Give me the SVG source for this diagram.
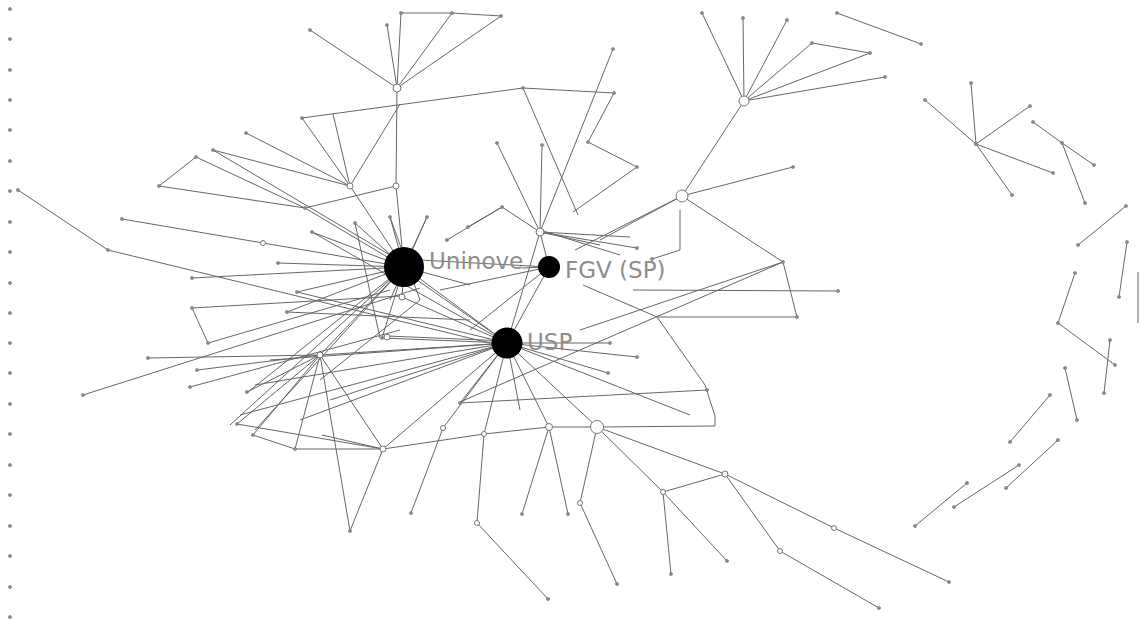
<svg xmlns="http://www.w3.org/2000/svg" width="1140" height="626" viewBox="0 0 1140 626">
<style>
.e{stroke:#666;stroke-width:1;fill:none}
.s{fill:#8c8c8c;stroke:#777;stroke-width:0.6}
.o{fill:#fff;stroke:#777;stroke-width:1}
.b{fill:#000}
.lbl{font-family:"DejaVu Sans",Verdana,sans-serif;font-size:23px;fill:#8d8d8d}
</style>
<rect width="1140" height="626" fill="#fff"/>
<g id="connectors" class="e">
<!-- top cluster -->
<path d="M401,13L452,13L501,16M397,88L401,13M397,88L452,13M397,88L501,16M397,88L387,25M397,88L310,30M397,88L396,186"/>
<path d="M302,118L523,88L614,93M302,118L350,186M333,114L350,186M350,186L246,133M350,186L213,150M350,186L400,104"/>
<path d="M196,157L159,186L305,208L196,157M305,208L396,186"/>
<path d="M350,186L404,267M396,186L404,267M305,208L404,267M213,150L395,258"/>
<!-- left -->
<path d="M18,190L108,250L490,343M122,219L263,243L404,267M278,263L404,267M192,278L404,267M192,308L400,296M192,308L208,343M83,395L420,288"/>
<path d="M148,358L320,355M197,370L320,355M190,387L400,330M247,392L320,355M320,355L404,267M320,355L507,343"/>
<path d="M355,223L404,267M390,217L404,267M427,217L404,267M312,232L404,267M287,312L404,267M297,292L404,267M382,338L404,267M402,297L404,267M355,223L380,338M390,217L420,300M427,217L390,300"/>
<path d="M312,232L507,343M297,292L507,343M287,312L470,320M208,343L390,290M248,392L404,267M255,430L404,267M230,425L404,267"/>
<path d="M382,338L507,343M387,336L507,341M402,297L507,343M404,267L507,343M410,275L500,338M420,260L549,267M404,267L470,285"/>
<!-- shared bottom-left -->
<path d="M320,355L295,449M320,355L253,435M320,355L237,424M320,355L383,449M320,355L350,531M253,435L295,449L383,449M237,424L383,449M322,435L383,449"/>
<path d="M383,449L507,343M383,449L484,434L549,427M350,531L383,449M411,513L443,428L507,343M477,523L484,434L507,343M477,523L548,599"/>
<path d="M255,385L507,343M240,415L507,343M300,420L507,343M330,400L507,343M270,360L507,343M320,380L420,300"/>
<!-- usp right side -->
<path d="M507,343L549,427M507,343L597,427M549,427L522,514M549,427L568,514M549,427L597,427L715,426L715,416L705,385L657,317L583,285M597,427L580,503L617,584"/>
<path d="M597,427L725,474L663,492L597,427M663,492L671,574M663,492L727,561M725,474L780,551L879,608M725,474L834,528L949,582"/>
<path d="M507,343L573,343L610,343M507,343L637,357M507,343L608,373M507,343L690,415M507,343L460,403M460,403L707,390M507,343L520,410M507,343L540,232M507,343L549,267"/>
<path d="M540,230L620,255M783,262L460,402M783,262L580,330M633,290L838,291M657,317L797,317M783,262L797,317M682,196L783,262M680,210L680,250L652,259"/>
<!-- fgv/top-center -->
<path d="M497,143L540,232M542,145L540,232M613,49L540,232M523,88L578,215M614,93L588,142L637,167L573,212M468,227L502,207L540,232M447,240L502,207"/>
<path d="M540,232L549,267M540,232L637,248M540,232L630,237M540,232L600,245M522,268L549,267M549,267L470,330M549,267L440,290"/>
<!-- right-top -->
<path d="M744,101L702,13M744,101L743,18M744,101L787,20M744,101L812,43L870,53M744,101L870,53M744,101L885,77M837,13L921,44"/>
<path d="M744,101L682,196M682,196L793,167M682,196L575,250M682,196L600,240"/>
<!-- far right -->
<path d="M976,144L971,83M976,144L925,100M976,144L1030,106M976,144L1053,173M976,144L1012,195M1033,122L1062,143L1094,165M1062,143L1085,203"/>
<path d="M1126,206L1078,245M1127,242L1119,297M1138,272L1138,323M1075,273L1058,323L1115,365M1110,340L1104,393M1065,368L1077,420M1050,395L1010,442M1058,440L1006,488M1019,465L954,507M967,483L915,526"/>
</g>
<g id="isolates" class="s">
<circle cx="10" cy="9" r="1.6"/><circle cx="10" cy="39" r="1.6"/><circle cx="10" cy="70" r="1.6"/><circle cx="10" cy="100" r="1.6"/><circle cx="10" cy="130" r="1.6"/><circle cx="10" cy="161" r="1.6"/><circle cx="10" cy="191" r="1.6"/><circle cx="10" cy="222" r="1.6"/><circle cx="10" cy="252" r="1.6"/><circle cx="10" cy="283" r="1.6"/><circle cx="10" cy="313" r="1.6"/><circle cx="10" cy="343" r="1.6"/><circle cx="10" cy="373" r="1.6"/><circle cx="10" cy="404" r="1.6"/><circle cx="10" cy="434" r="1.6"/><circle cx="10" cy="465" r="1.6"/><circle cx="10" cy="495" r="1.6"/><circle cx="10" cy="526" r="1.6"/><circle cx="10" cy="556" r="1.6"/><circle cx="10" cy="587" r="1.6"/><circle cx="10" cy="617" r="1.6"/>
</g>
<g id="small-nodes" class="s">
<circle cx="401" cy="13" r="1.6"/><circle cx="452" cy="13" r="1.6"/><circle cx="501" cy="16" r="1.6"/><circle cx="387" cy="25" r="1.6"/><circle cx="310" cy="30" r="1.6"/>
<circle cx="302" cy="118" r="1.6"/><circle cx="523" cy="88" r="1.6"/><circle cx="614" cy="93" r="1.6"/><circle cx="246" cy="133" r="1.6"/><circle cx="213" cy="150" r="1.6"/><circle cx="196" cy="157" r="1.6"/><circle cx="159" cy="186" r="1.6"/><circle cx="305" cy="208" r="1.6"/>
<circle cx="18" cy="190" r="1.6"/><circle cx="108" cy="250" r="1.6"/><circle cx="122" cy="219" r="1.6"/><circle cx="278" cy="263" r="1.6"/><circle cx="192" cy="278" r="1.6"/><circle cx="192" cy="308" r="1.6"/><circle cx="208" cy="343" r="1.6"/><circle cx="83" cy="395" r="1.6"/><circle cx="148" cy="358" r="1.6"/><circle cx="197" cy="370" r="1.6"/><circle cx="190" cy="387" r="1.6"/><circle cx="247" cy="392" r="1.6"/>
<circle cx="355" cy="223" r="1.6"/><circle cx="390" cy="217" r="1.6"/><circle cx="427" cy="217" r="1.6"/><circle cx="312" cy="232" r="1.6"/><circle cx="287" cy="312" r="1.6"/><circle cx="297" cy="292" r="1.6"/><circle cx="382" cy="338" r="1.6"/>
<circle cx="497" cy="143" r="1.6"/><circle cx="542" cy="145" r="1.6"/><circle cx="613" cy="49" r="1.6"/><circle cx="588" cy="142" r="1.6"/><circle cx="637" cy="167" r="1.6"/><circle cx="502" cy="207" r="1.6"/><circle cx="468" cy="227" r="1.6"/><circle cx="447" cy="240" r="1.6"/>
<circle cx="702" cy="13" r="1.6"/><circle cx="743" cy="18" r="1.6"/><circle cx="787" cy="20" r="1.6"/><circle cx="812" cy="43" r="1.6"/><circle cx="870" cy="53" r="1.6"/><circle cx="885" cy="77" r="1.6"/><circle cx="837" cy="13" r="1.6"/><circle cx="921" cy="44" r="1.6"/><circle cx="793" cy="167" r="1.6"/><circle cx="783" cy="262" r="1.6"/><circle cx="797" cy="317" r="1.6"/><circle cx="838" cy="291" r="1.6"/>
<circle cx="976" cy="144" r="1.8"/><circle cx="971" cy="83" r="1.6"/><circle cx="925" cy="100" r="1.6"/><circle cx="1030" cy="106" r="1.6"/><circle cx="1053" cy="173" r="1.6"/><circle cx="1012" cy="195" r="1.6"/><circle cx="1033" cy="122" r="1.6"/><circle cx="1062" cy="143" r="1.6"/><circle cx="1094" cy="165" r="1.6"/><circle cx="1085" cy="203" r="1.6"/>
<circle cx="1126" cy="206" r="1.6"/><circle cx="1078" cy="245" r="1.6"/><circle cx="1127" cy="242" r="1.6"/><circle cx="1119" cy="297" r="1.6"/><circle cx="1075" cy="273" r="1.6"/><circle cx="1058" cy="323" r="1.6"/><circle cx="1115" cy="365" r="1.6"/><circle cx="1110" cy="340" r="1.6"/><circle cx="1104" cy="393" r="1.6"/><circle cx="1065" cy="368" r="1.6"/><circle cx="1077" cy="420" r="1.6"/><circle cx="1050" cy="395" r="1.6"/><circle cx="1010" cy="442" r="1.6"/><circle cx="1058" cy="440" r="1.6"/><circle cx="1006" cy="488" r="1.6"/><circle cx="1019" cy="465" r="1.6"/><circle cx="954" cy="507" r="1.6"/><circle cx="967" cy="483" r="1.6"/><circle cx="915" cy="526" r="1.6"/>
<circle cx="522" cy="514" r="1.6"/><circle cx="568" cy="514" r="1.6"/><circle cx="617" cy="584" r="1.6"/><circle cx="548" cy="599" r="1.6"/><circle cx="411" cy="513" r="1.6"/><circle cx="671" cy="574" r="1.6"/><circle cx="727" cy="561" r="1.6"/><circle cx="879" cy="608" r="1.6"/><circle cx="949" cy="582" r="1.6"/><circle cx="350" cy="531" r="1.6"/><circle cx="237" cy="424" r="1.6"/><circle cx="253" cy="435" r="1.6"/><circle cx="295" cy="449" r="1.6"/>
<circle cx="610" cy="343" r="1.6"/><circle cx="637" cy="357" r="1.6"/><circle cx="608" cy="373" r="1.6"/><circle cx="460" cy="403" r="1.6"/><circle cx="707" cy="390" r="1.6"/><circle cx="652" cy="259" r="1.6"/><circle cx="637" cy="248" r="1.6"/>
</g>
<g id="open-nodes" class="o">
<circle cx="397" cy="88" r="4"/><circle cx="396" cy="186" r="3"/><circle cx="350" cy="186" r="3"/><circle cx="263" cy="243" r="2.5"/><circle cx="320" cy="355" r="3"/><circle cx="540" cy="232" r="4"/><circle cx="744" cy="101" r="5"/><circle cx="682" cy="196" r="6"/><circle cx="549" cy="427" r="3.5"/><circle cx="597" cy="427" r="6.5"/><circle cx="725" cy="474" r="3"/><circle cx="663" cy="492" r="2.5"/><circle cx="580" cy="503" r="2.5"/><circle cx="477" cy="523" r="2.5"/><circle cx="484" cy="434" r="2.5"/><circle cx="443" cy="428" r="2.5"/><circle cx="383" cy="449" r="3"/><circle cx="834" cy="528" r="2.5"/><circle cx="780" cy="551" r="2.5"/><circle cx="402" cy="297" r="3"/><circle cx="387" cy="337" r="3"/>
</g>
<g id="node-uninove"><circle class="b" cx="404" cy="267" r="20"/><text class="lbl" x="429" y="269">Uninove</text></g>
<g id="node-fgv"><circle class="b" cx="549" cy="267" r="11"/><text class="lbl" x="565" y="278">FGV (SP)</text></g>
<g id="node-usp"><circle class="b" cx="507" cy="343" r="15.5"/><text class="lbl" x="527" y="350">USP</text></g>
</svg>
